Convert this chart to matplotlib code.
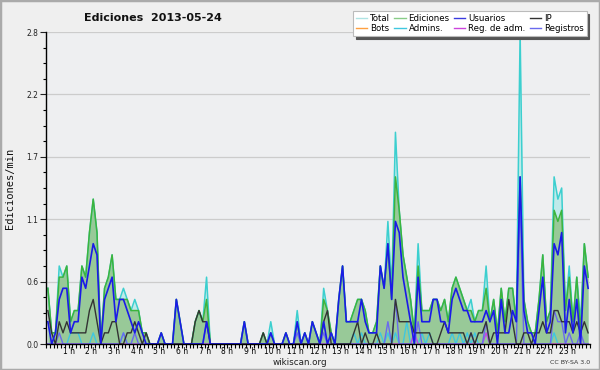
import matplotlib
matplotlib.use('Agg')
import matplotlib.pyplot as plt
from matplotlib.lines import Line2D
from matplotlib.patches import Rectangle
import numpy as np

# edits per minute, 10-minute buckets, 2013-05-24
total = [0.5, 0.1, 0.1, 0.7, 0.6, 0.7, 0.2, 0.3, 0.3, 0.7, 0.6, 1.0,
         1.3, 1.0, 0.0, 0.5, 0.6, 0.8, 0.4, 0.4, 0.5, 0.4, 0.3, 0.4,
         0.3, 0.1, 0.1, 0, 0, 0, 0.1, 0, 0, 0, 0.4, 0.2,
         0, 0, 0, 0.2, 0.3, 0.2, 0.6, 0, 0, 0, 0, 0,
         0, 0, 0, 0, 0.2, 0, 0, 0, 0, 0.1, 0, 0.2,
         0, 0, 0, 0.1, 0, 0, 0.3, 0, 0.1, 0, 0.2, 0.1,
         0, 0.5, 0.3, 0.1, 0, 0.4, 0.7, 0.2, 0.2, 0.3, 0.4, 0.4,
         0.3, 0.1, 0.1, 0.2, 0.7, 0.5, 1.1, 0.5, 1.9, 1.2, 0.8, 0.6,
         0.4, 0.1, 0.9, 0.3, 0.3, 0.3, 0.4, 0.4, 0.3, 0.4, 0.2, 0.5,
         0.6, 0.5, 0.4, 0.3, 0.4, 0.2, 0.3, 0.3, 0.7, 0.2, 0.4, 0.1,
         0.5, 0.2, 0.5, 0.5, 0.2, 2.8, 0.4, 0.2, 0.1, 0.1, 0.4, 0.8,
         0.2, 0.3, 1.5, 1.3, 1.4, 0.3, 0.7, 0.2, 0.6, 0.2, 0.9, 0.6]

ediciones = [0.5, 0.1, 0.1, 0.6, 0.6, 0.7, 0.2, 0.3, 0.3, 0.7, 0.6, 1.0,
             1.3, 1.0, 0.0, 0.5, 0.6, 0.8, 0.4, 0.4, 0.4, 0.4, 0.3, 0.3,
             0.3, 0.1, 0.1, 0, 0, 0, 0.1, 0, 0, 0, 0.4, 0.2,
             0, 0, 0, 0.2, 0.3, 0.2, 0.4, 0, 0, 0, 0, 0,
             0, 0, 0, 0, 0.2, 0, 0, 0, 0, 0.1, 0, 0.1,
             0, 0, 0, 0.1, 0, 0, 0.2, 0, 0.1, 0, 0.2, 0.1,
             0, 0.4, 0.3, 0.1, 0, 0.4, 0.7, 0.2, 0.2, 0.3, 0.4, 0.4,
             0.3, 0.1, 0.1, 0.2, 0.7, 0.5, 0.9, 0.4, 1.5, 1.2, 0.8, 0.6,
             0.4, 0.1, 0.7, 0.3, 0.3, 0.3, 0.4, 0.4, 0.3, 0.4, 0.2, 0.5,
             0.6, 0.5, 0.4, 0.3, 0.3, 0.2, 0.3, 0.3, 0.5, 0.2, 0.4, 0.1,
             0.5, 0.2, 0.5, 0.5, 0.2, 1.5, 0.4, 0.2, 0.1, 0.1, 0.4, 0.8,
             0.2, 0.3, 1.2, 1.1, 1.2, 0.3, 0.6, 0.2, 0.6, 0.1, 0.9, 0.6]

usuarios = [0.2, 0, 0.1, 0.4, 0.5, 0.5, 0.1, 0.2, 0.2, 0.6, 0.5, 0.7,
            0.9, 0.8, 0, 0.4, 0.5, 0.6, 0.2, 0.4, 0.4, 0.3, 0.2, 0.1,
            0.2, 0.1, 0, 0, 0, 0, 0.1, 0, 0, 0, 0.4, 0.2,
            0, 0, 0, 0, 0, 0, 0.2, 0, 0, 0, 0, 0,
            0, 0, 0, 0, 0.2, 0, 0, 0, 0, 0, 0, 0.1,
            0, 0, 0, 0.1, 0, 0, 0.2, 0, 0.1, 0, 0.2, 0.1,
            0, 0.2, 0, 0.1, 0, 0.4, 0.7, 0.2, 0.2, 0.2, 0.2, 0.4,
            0.2, 0.1, 0.1, 0.1, 0.7, 0.5, 0.9, 0.4, 1.1, 1.0, 0.6, 0.4,
            0.2, 0, 0.6, 0.2, 0.2, 0.2, 0.4, 0.4, 0.2, 0.2, 0.1, 0.4,
            0.5, 0.4, 0.3, 0.3, 0.2, 0.2, 0.2, 0.2, 0.3, 0.2, 0.3, 0,
            0.4, 0.1, 0.1, 0.3, 0.2, 1.5, 0.3, 0.1, 0.1, 0, 0.3, 0.6,
            0.1, 0.2, 0.9, 0.8, 1.0, 0.1, 0.4, 0.1, 0.4, 0, 0.7, 0.5]

ip = [0.3, 0.1, 0, 0.2, 0.1, 0.2, 0.1, 0.1, 0.1, 0.1, 0.1, 0.3,
      0.4, 0.2, 0, 0.1, 0.1, 0.2, 0.2, 0, 0, 0.1, 0.1, 0.2,
      0.1, 0, 0.1, 0, 0, 0, 0, 0, 0, 0, 0, 0,
      0, 0, 0, 0.2, 0.3, 0.2, 0.2, 0, 0, 0, 0, 0,
      0, 0, 0, 0, 0, 0, 0, 0, 0, 0.1, 0, 0,
      0, 0, 0, 0, 0, 0, 0, 0, 0, 0, 0, 0,
      0, 0.2, 0.3, 0, 0, 0, 0, 0, 0, 0.1, 0.2, 0,
      0.1, 0, 0, 0.1, 0, 0, 0, 0, 0.4, 0.2, 0.2, 0.2,
      0.2, 0.1, 0.1, 0.1, 0.1, 0.1, 0, 0, 0.1, 0.2, 0.1, 0.1,
      0.1, 0.1, 0.1, 0, 0.1, 0, 0.1, 0.1, 0.2, 0, 0.1, 0.1,
      0.1, 0.1, 0.4, 0.2, 0, 0, 0.1, 0.1, 0, 0.1, 0.1, 0.2,
      0.1, 0.1, 0.3, 0.3, 0.2, 0.2, 0.2, 0.1, 0.2, 0.1, 0.2, 0.1]

admins = [0, 0, 0, 0, 0, 0, 0.1, 0.1, 0.1, 0, 0, 0,
          0.1, 0, 0, 0, 0, 0, 0, 0, 0.1, 0, 0, 0,
          0, 0, 0, 0, 0, 0, 0, 0, 0, 0, 0, 0,
          0, 0, 0, 0, 0, 0, 0, 0, 0, 0, 0, 0,
          0, 0, 0, 0, 0, 0, 0, 0, 0, 0, 0, 0,
          0, 0, 0, 0, 0, 0, 0.2, 0, 0, 0, 0, 0,
          0, 0, 0, 0, 0, 0, 0, 0, 0, 0.1, 0, 0.1,
          0, 0, 0, 0, 0.1, 0, 0.1, 0, 0.1, 0, 0, 0.2,
          0, 0.1, 0, 0.1, 0, 0.1, 0, 0, 0, 0, 0, 0.1,
          0, 0.1, 0, 0.1, 0, 0.1, 0, 0, 0.1, 0, 0, 0,
          0, 0, 0, 0, 0, 0, 0, 0, 0, 0, 0, 0,
          0, 0, 0.1, 0, 0, 0, 0, 0, 0, 0, 0, 0]

registros = [0, 0, 0, 0.1, 0, 0, 0, 0, 0, 0, 0, 0,
             0, 0, 0, 0, 0, 0, 0, 0, 0.1, 0, 0, 0.1,
             0, 0, 0, 0, 0, 0, 0, 0, 0, 0, 0, 0,
             0, 0, 0, 0, 0, 0, 0.2, 0, 0, 0, 0, 0,
             0, 0, 0, 0, 0, 0, 0, 0, 0, 0, 0, 0.1,
             0, 0, 0, 0, 0, 0, 0.1, 0, 0, 0, 0, 0,
             0, 0.1, 0, 0, 0, 0, 0, 0, 0, 0, 0, 0,
             0, 0, 0, 0, 0, 0, 0.2, 0, 0.4, 0, 0, 0,
             0, 0, 0.2, 0, 0, 0, 0, 0, 0, 0, 0, 0,
             0, 0, 0, 0, 0.1, 0, 0, 0, 0.2, 0, 0, 0,
             0, 0, 0, 0, 0, 1.3, 0, 0, 0, 0, 0, 0,
             0, 0, 0.3, 0.2, 0.2, 0, 0.1, 0, 0, 0.1, 0, 0]

reg_adm = [0] * 97 + [0.1] + [0] * 18 + [0.1] + [0] * 27
bots = [0] * 144

hour_labels = ['%d h' % h for h in range(1, 24)]

t = (np.arange(len(total)) + 0.5) / 6.0

fig = plt.figure(figsize=(6, 3.7), dpi=100, facecolor='#efefef')
ax = fig.add_axes([46 / 600, 26 / 370, 544 / 600, 312 / 370])
ax.set_facecolor('#eeeff1')

ax.fill_between(t, total, color='#bfeaea', lw=0, zorder=1)
ax.plot(t, total, color='#3ccfcf', lw=1.1, zorder=2)
ax.fill_between(t, ediciones, color='#98c998', lw=0, zorder=1.5)
ax.plot(t, ediciones, color='#3db43d', lw=1.1, zorder=2.1)
ax.plot(t, bots, color='#ffa040', lw=1, zorder=2.2)
ax.plot(t, admins, color='#3fc7e0', lw=1, zorder=2.2)
ax.plot(t, reg_adm, color='#cc44dd', lw=1, zorder=2.2)
ax.plot(t, registros, color='#6a6aee', lw=1, zorder=2.2)
ax.plot(t, ip, color='#333333', lw=1, zorder=2.3)
ax.plot(t, usuarios, color='#1a1ae8', lw=1.2, zorder=2.4)

ax.set_xlim(0, 24)
ax.set_ylim(0, 2.8)

yt = [0, 0.56, 1.12, 1.68, 2.24, 2.8]
ax.set_yticks(yt)
ax.set_yticklabels(['%.1f' % v for v in yt])
ax.set_yticks(np.arange(0, 2.81, 0.14), minor=True)
ax.set_xticks(range(1, 24))
ax.set_xticklabels(hour_labels)
ax.set_xticks(np.arange(0, 24.01, 1 / 6), minor=True)
ax.tick_params(axis='y', which='major', length=4.5, width=0.8, labelsize=5.5, pad=1, colors='#222222')
ax.tick_params(axis='y', which='minor', length=2.5, width=0.8)
ax.tick_params(axis='x', which='both', length=3, width=0.8, labelsize=5.5, pad=-0.5)
ax.grid(axis='y', which='major', color='#cccccc', lw=0.9, zorder=0)
ax.set_axisbelow(True)
for s in ['top', 'right']:
    ax.spines[s].set_visible(False)
for s in ['left', 'bottom']:
    ax.spines[s].set_linewidth(1)
    ax.spines[s].set_zorder(5)

names = ['Total', 'Bots', 'Ediciones', 'Admins.', 'Usuarios', 'Reg. de adm.', 'IP', 'Registros']
colors = ['#aee3e3', '#ffa040', '#88cc88', '#3fc7e0', '#3a3ae0', '#cc44dd', '#333333', '#6a6aee']
handles = [Line2D([], [], color=c, lw=1) for c in colors]
leg = fig.legend(handles, names, ncol=4, loc='upper right', bbox_to_anchor=(591 / 600, 1 - 7 / 370),
                 fontsize=6.2, frameon=True, fancybox=False, shadow={'color': '#555555', 'alpha': 1},
                 handlelength=1.3, handletextpad=0.35, columnspacing=0.5, labelspacing=0.1,
                 borderpad=0.35, framealpha=1)
leg.get_frame().set_edgecolor('#bbbbbb')
leg.get_frame().set_linewidth(0.8)

fig.text(153 / 600, 1 - 18 / 370, 'Ediciones  2013-05-24', ha='center', va='center',
         fontsize=8, fontweight='bold', color='#111111')
fig.text(10 / 600, 1 - 188 / 370, 'Ediciones/min', rotation=90, ha='center', va='center',
         fontsize=7.5, family='DejaVu Sans Mono', color='#111111')
fig.text(300 / 600, 1 - 362.5 / 370, 'wikiscan.org', ha='center', va='center', fontsize=6.3, color='#222222')
fig.text(590 / 600, 1 - 362.5 / 370, 'CC BY-SA 3.0', ha='right', va='center', fontsize=4.5, color='#333333')

fig.patches.append(Rectangle((0, 0), 1, 1, transform=fig.transFigure, fill=False,
                             edgecolor='#aaaaaa', lw=2.5))

fig.savefig('out.png', dpi=100, facecolor=fig.get_facecolor())
